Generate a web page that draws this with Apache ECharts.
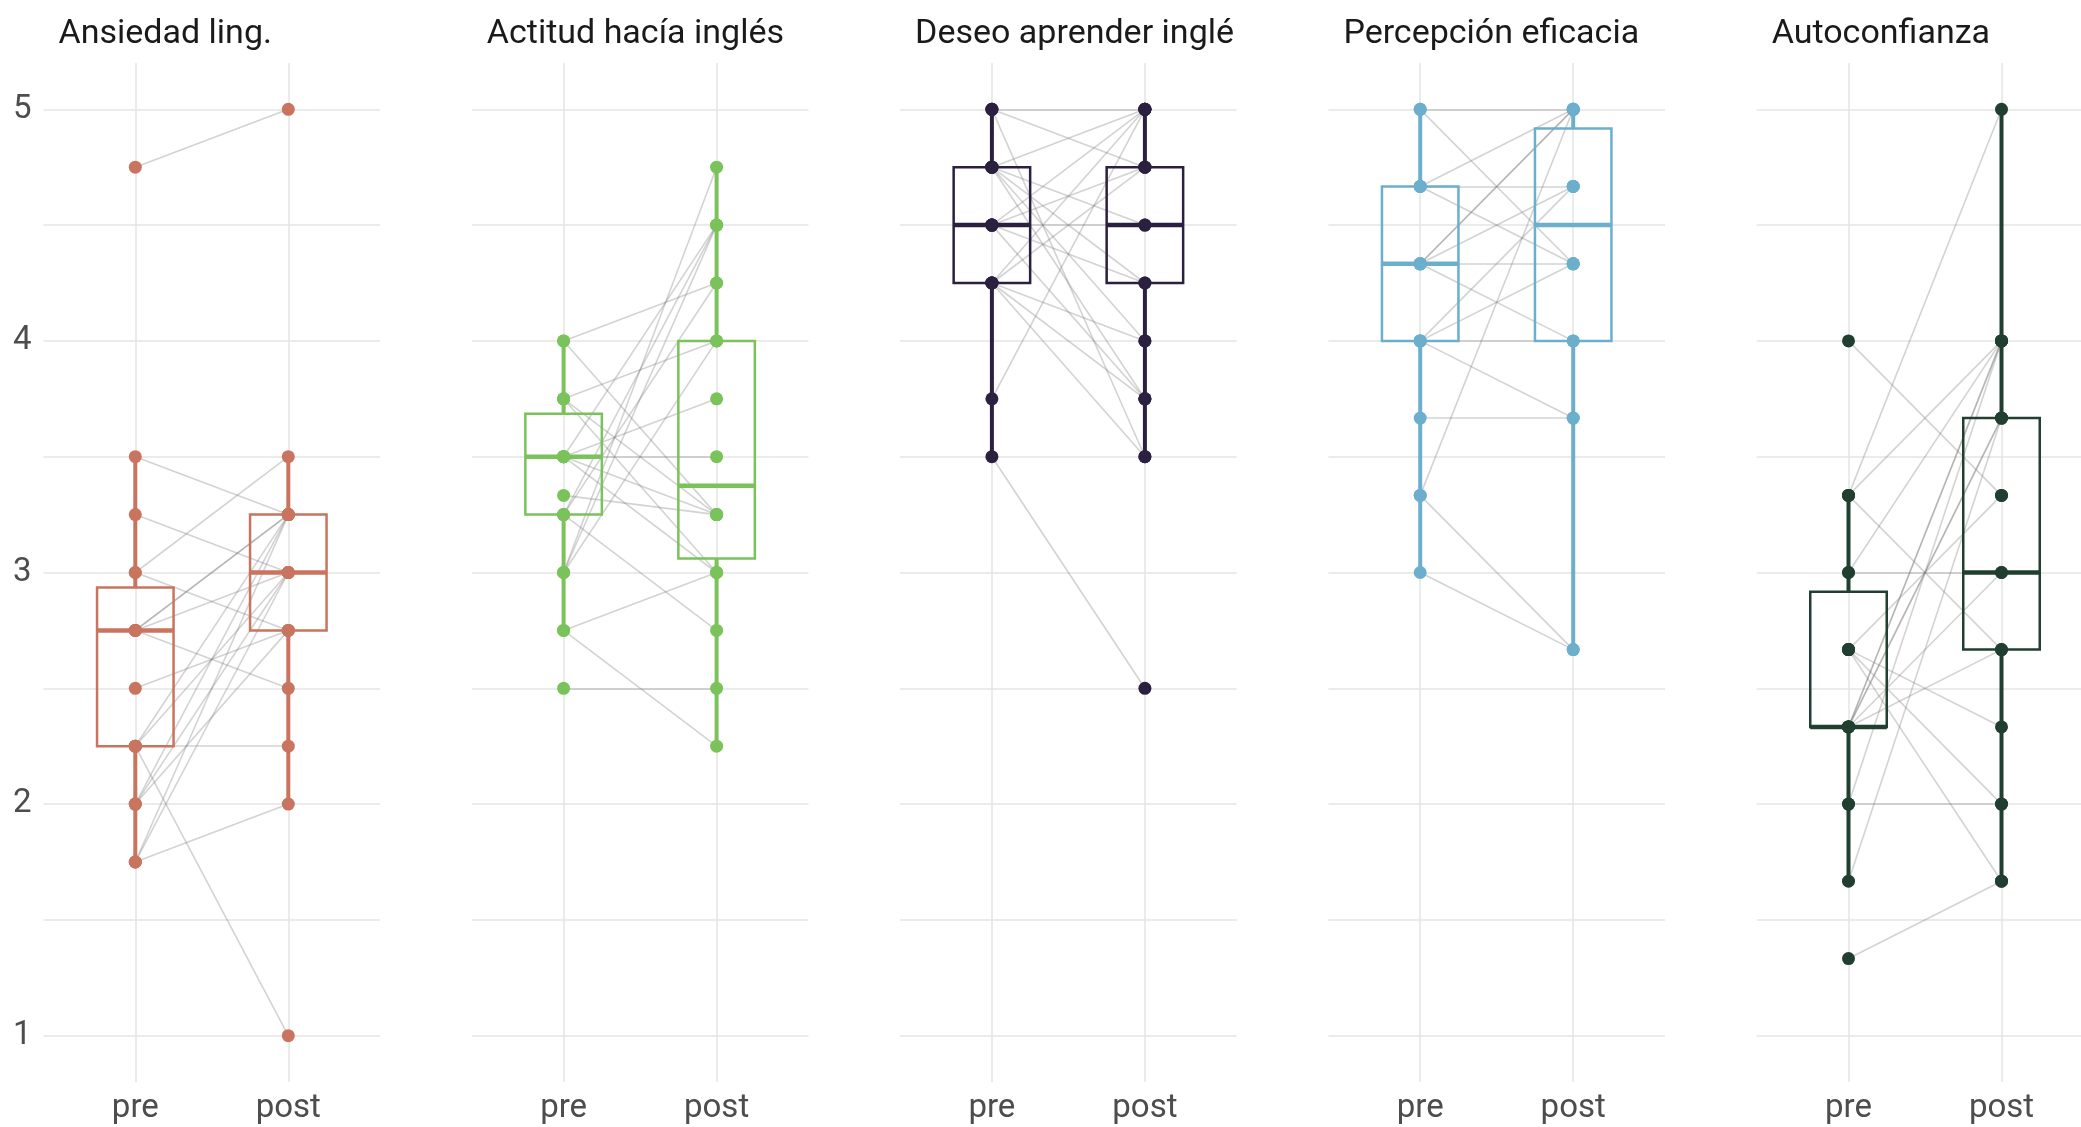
<!DOCTYPE html>
<html>
<head>
<meta charset="utf-8">
<title>pre / post</title>
<script src="https://cdn.jsdelivr.net/npm/echarts@6/dist/echarts.min.js"></script>
<style>
  html, body { margin: 0; padding: 0; background: #fff; }
  #chart { width: 2081px; height: 1127px; }
</style>
</head>
<body>
<div id="chart"></div>
<script>
// titulos de cada panel (tal como se ven en la figura)
var panelTitles = ['Ansiedad ling.', 'Actitud hacía inglés', 'Deseo aprender inglé', 'Percepción eficacia', 'Autoconfianza'];
var panelColors = ['#c8745e', '#7ac25a', '#2b2040', '#6cafcd', '#213f30'];
var timeLabels = ['pre', 'post'];
var yTickLabels = [1, 2, 3, 4, 5];
var yGridValues = [1, 1.5, 2, 2.5, 3, 3.5, 4, 4.5, 5];

// puntuaciones pareadas (una posicion = un participante)
var anxPre  = [4.75, 3.5, 3.25, 3, 3, 2.75, 2.75, 2.75, 2.75, 2.5, 2.25, 2.25, 2.25, 2.25, 2, 2, 2, 1.75, 1.75, 1.75];
var anxPost = [5, 3.25, 3, 3.5, 2.75, 3.25, 3, 2.5, 3.25, 2.75, 1, 2.25, 3.25, 3, 3.25, 3, 2.75, 2, 3.25, 3];

var attPre  = [4, 4, 3.75, 3.75, 3.75, 3.5, 3.5, 3.5, 3.5, 3.333, 3.25, 3.25, 3, 3, 3, 2.75, 2.75, 2.5, 3.25, 3.5];
var attPost = [4.25, 3.25, 4, 3.25, 3, 3.5, 3.75, 3.25, 3, 3.25, 4.5, 2.75, 4.75, 4.5, 4, 3, 2.25, 2.5, 4.25, 4.5];

var wishPre  = [5, 5, 5, 4.75, 4.75, 4.75, 4.75, 4.5, 4.5, 4.5, 4.5, 4.25, 4.25, 4.25, 4.25, 4.25, 3.75, 3.5, 4.5, 4.75];
var wishPost = [5, 4.75, 3.5, 5, 4.5, 4, 3.75, 5, 4.75, 4.5, 3.75, 5, 4.75, 4, 3.75, 3.5, 5, 2.5, 4.25, 4.25];

var effPre  = [5, 5, 4.667, 4.667, 4.667, 4.333, 4.333, 4.333, 4.333, 4, 4, 4, 3.667, 3.333, 3.333, 3, 4.333, 4];
var effPost = [5, 4.333, 5, 4.667, 4.333, 5, 4.667, 4.333, 4, 4.333, 3.667, 4.667, 3.667, 5, 2.667, 2.667, 5, 4];

var confPre  = [4, 3.333, 3.333, 3.333, 3, 3, 2.667, 2.667, 2.667, 2.667, 2.333, 2.333, 2.333, 2.333, 2.333, 2, 2, 1.667, 1.333, 2.333];
var confPost = [3.333, 5, 4, 2.667, 4, 3, 3.333, 2.333, 2, 1.667, 4, 3.667, 3, 2.667, 3.667, 2, 4, 3.667, 1.667, 4];

// cajas: [bigote inf, Q1, mediana, Q3, bigote sup] para pre y post
var anxBox  = [[1.75, 2.25, 2.75, 2.935, 3.5], [2, 2.75, 3, 3.25, 3.5]];
var attBox  = [[2.75, 3.25, 3.5, 3.685, 4], [2.25, 3.06, 3.375, 4, 4.75]];
var wishBox = [[3.5, 4.25, 4.5, 4.75, 5], [3.5, 4.25, 4.5, 4.75, 5]];
var effBox  = [[3, 4, 4.333, 4.667, 5], [2.667, 4, 4.5, 4.917, 5]];
var confBox = [[1.667, 2.333, 2.333, 2.917, 3.333], [1.667, 2.667, 3, 3.667, 5]];

var preSets  = [anxPre, attPre, wishPre, effPre, confPre];
var postSets = [anxPost, attPost, wishPost, effPost, confPost];
var boxSets  = [anxBox, attBox, wishBox, effBox, confBox];

var chart = echarts.init(document.getElementById('chart'));

var panelLeft = 43.5, panelStep = 428.3, panelWidth = 336.6;
var fontName = 'Roboto';

function boxRenderer(color) {
    return function (params, api) {
        var x = api.value(0);
        var half = 0.25;
        var low = api.coord([x, api.value(1)]);
        var q1 = api.coord([x, api.value(2)]);
        var q3 = api.coord([x, api.value(4)]);
        var high = api.coord([x, api.value(5)]);
        var cornerA = api.coord([x - half, api.value(4)]);
        var cornerB = api.coord([x + half, api.value(2)]);
        var medA = api.coord([x - half, api.value(3)]);
        var medB = api.coord([x + half, api.value(3)]);
        return {
            type: 'group',
            children: [
                { type: 'line', shape: { x1: low[0], y1: low[1], x2: q1[0], y2: q1[1] }, style: { stroke: color, lineWidth: 4 } },
                { type: 'line', shape: { x1: q3[0], y1: q3[1], x2: high[0], y2: high[1] }, style: { stroke: color, lineWidth: 4 } },
                { type: 'rect', shape: { x: cornerA[0], y: cornerA[1], width: cornerB[0] - cornerA[0], height: cornerB[1] - cornerA[1] },
                  style: { fill: 'none', stroke: color, lineWidth: 2.5 } },
                { type: 'line', shape: { x1: medA[0], y1: medA[1], x2: medB[0], y2: medB[1] }, style: { stroke: color, lineWidth: 4.5 } }
            ]
        };
    };
}

var grids = [], xAxes = [], yAxes = [], titles = [], series = [];

panelTitles.forEach(function (name, i) {
    var left = panelLeft + i * panelStep;
    var color = panelColors[i];
    // el ultimo panel queda cortado por el borde derecho, como en la figura
    grids.push({ left: left, top: 63, width: panelWidth, height: 1019, outerBoundsMode: 'none', containLabel: false });
    titles.push({
        text: name, left: left + 15, top: 17, padding: 0,
        textStyle: { fontFamily: fontName, fontSize: 34, fontWeight: 'normal', color: '#1a1a1a' }
    });
    xAxes.push({
        type: 'value', gridIndex: i, min: 0.4, max: 2.6,
        axisLine: { show: false },
        axisTick: { show: false, customValues: [1, 2] },
        axisLabel: {
            customValues: [1, 2], margin: 10,
            fontFamily: fontName, fontSize: 33, color: '#4d4d4d',
            formatter: function (v) { return timeLabels[Math.round(v) - 1]; }
        },
        splitLine: { show: true, lineStyle: { color: '#e4e4e4', width: 1.5 } }
    });
    yAxes.push({
        type: 'value', gridIndex: i, min: 0.8, max: 5.2,
        axisLine: { show: false },
        axisTick: { show: false, customValues: yGridValues },
        axisLabel: {
            show: i === 0, customValues: yTickLabels, margin: 12,
            fontFamily: fontName, fontSize: 33, color: '#4d4d4d'
        },
        splitLine: { show: true, lineStyle: { color: '#e4e4e4', width: 1.5 } }
    });

    var pre = preSets[i], post = postSets[i];

    // lineas de cada participante
    series.push({
        type: 'lines', coordinateSystem: 'cartesian2d', xAxisIndex: i, yAxisIndex: i,
        silent: true, z: 2,
        lineStyle: { color: '#7a7a7a', opacity: 0.33, width: 1.6 },
        data: pre.map(function (p, j) { return { coords: [[1, p], [2, post[j]]] }; })
    });

    // cajas
    series.push({
        type: 'custom', xAxisIndex: i, yAxisIndex: i, z: 3, silent: true,
        renderItem: boxRenderer(color),
        encode: { x: 0, y: [1, 2, 3, 4, 5] },
        data: boxSets[i].map(function (b, k) { return [k + 1].concat(b); })
    });

    // puntos
    series.push({
        type: 'scatter', xAxisIndex: i, yAxisIndex: i, z: 4, silent: true,
        symbolSize: 13,
        itemStyle: { color: color, opacity: 1 },
        data: pre.map(function (p) { return [1, p]; }).concat(post.map(function (p) { return [2, p]; }))
    });
});

chart.setOption({
    backgroundColor: '#ffffff',
    animation: false,
    title: titles,
    grid: grids,
    xAxis: xAxes,
    yAxis: yAxes,
    series: series
});
</script>
</body>
</html>
